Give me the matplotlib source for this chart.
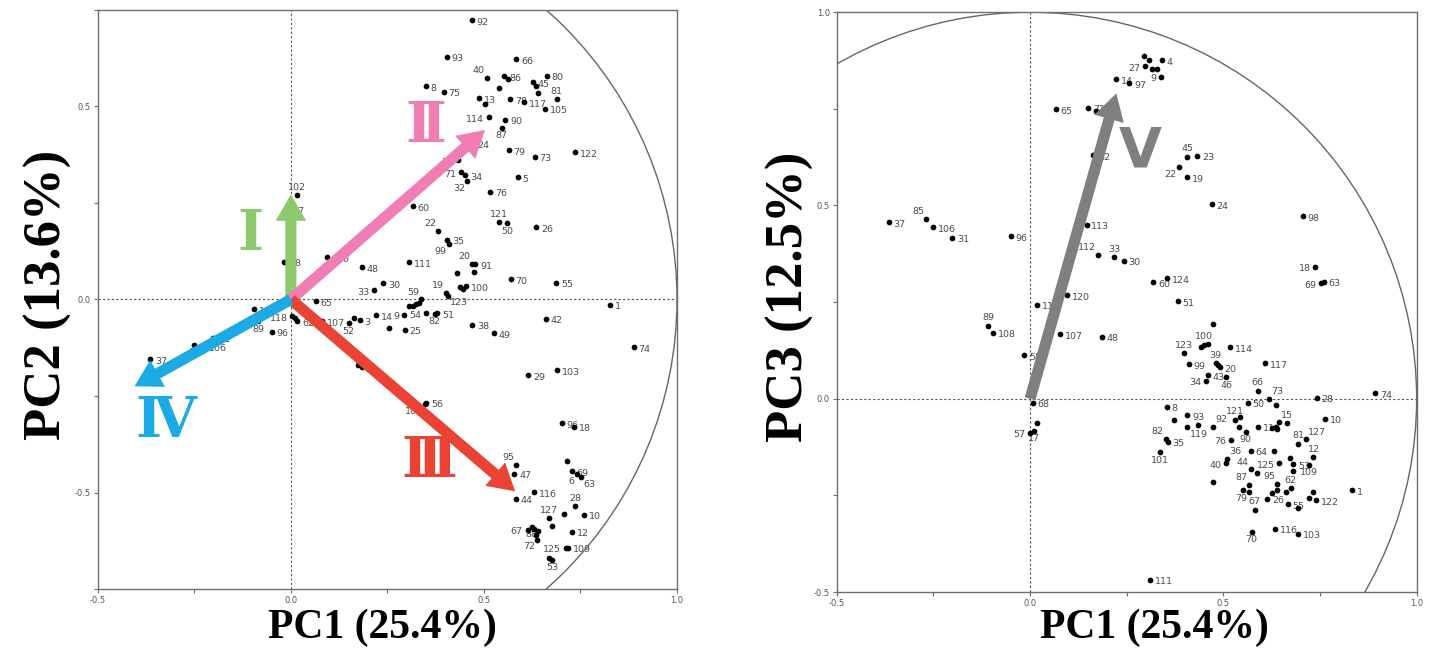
import numpy as np
import matplotlib
matplotlib.use("Agg")
import matplotlib.pyplot as plt
from matplotlib.patches import FancyArrowPatch, Circle, ArrowStyle

# ---------------- data: left panel (PC1 vs PC2) ----------------
pc1_left = [0.469, 0.404, 0.584, 0.507, 0.553, 0.563, 0.663, 0.626, 0.634, 0.641,
            0.688, 0.658, 0.604, 0.568, 0.538, 0.488, 0.503, 0.349, 0.396, 0.512,
            0.555, 0.546, 0.470, 0.432, 0.564, 0.631, 0.735, 0.440, 0.452, 0.457,
            0.587, 0.516, 0.316, 0.540, 0.561, 0.636, 0.382, 0.404, 0.409, 0.307,
            0.469, 0.478, 0.430, 0.473, 0.183, 0.239, 0.216, 0.402, 0.407, 0.439,
            0.454, 0.445, 0.569, 0.687, 0.826, 0.065, 0.337, 0.333, 0.325, 0.316,
            0.307, 0.350, 0.379, 0.372, 0.294, 0.221, 0.254, 0.295, 0.178, 0.163,
            0.150, 0.080, 0.469, 0.525, 0.660, 0.888, 0.174, 0.185, 0.614, 0.689,
            0.701, 0.734, 0.351, 0.348, 0.583, 0.579, 0.583, 0.630, 0.716, 0.727,
            0.740, 0.751, 0.736, 0.760, 0.708, 0.669, 0.677, 0.728, 0.613, 0.624,
            0.630, 0.641, 0.634, 0.637, 0.717, 0.712, 0.669, 0.676, 0.016, -0.010,
            -0.017, 0.094, -0.096, 0.004, 0.010, 0.016, -0.085, -0.050, -0.201, -0.225,
            -0.250, -0.364]
pc2_left = [0.724, 0.629, 0.622, 0.574, 0.578, 0.571, 0.580, 0.563, 0.554, 0.535,
            0.518, 0.494, 0.511, 0.518, 0.547, 0.521, 0.505, 0.553, 0.538, 0.472,
            0.466, 0.444, 0.405, 0.361, 0.387, 0.370, 0.382, 0.330, 0.322, 0.306,
            0.317, 0.279, 0.242, 0.200, 0.197, 0.187, 0.177, 0.155, 0.144, 0.097,
            0.093, 0.091, 0.068, 0.071, 0.083, 0.042, 0.024, 0.016, 0.010, 0.033,
            0.034, 0.026, 0.052, 0.043, -0.014, -0.004, 0.000, -0.010, -0.013, -0.016,
            -0.017, -0.035, -0.036, -0.037, -0.040, -0.041, -0.074, -0.078, -0.054, -0.047,
            -0.062, -0.057, -0.065, -0.087, -0.050, -0.124, -0.171, -0.175, -0.196, -0.183,
            -0.320, -0.330, -0.267, -0.272, -0.429, -0.451, -0.516, -0.499, -0.419, -0.445,
            -0.452, -0.460, -0.535, -0.558, -0.555, -0.567, -0.587, -0.601, -0.596, -0.589,
            -0.594, -0.599, -0.611, -0.622, -0.643, -0.643, -0.670, -0.674, 0.270, 0.233,
            0.098, 0.110, -0.026, -0.043, -0.049, -0.056, -0.057, -0.083, -0.099, -0.122,
            -0.118, -0.155]
names_left = ['92', '93', '66', '40', '86', '', '80', '45', '', '',
              '81', '105', '117', '78', '', '13', '', '8', '75', '114',
              '90', '87', '24', '77', '79', '73', '122', '71', '34', '32',
              '5', '76', '60', '121', '50', '26', '22', '35', '99', '111',
              '20', '91', '', '', '48', '30', '33', '19', '123', '',
              '100', '', '70', '55', '1', '65', '59', '', '', '',
              '', '54', '51', '82', '9', '14', '', '25', '3', '',
              '52', '107', '38', '49', '42', '74', '13', '', '29', '103',
              '96', '18', '56', '101', '95', '47', '44', '116', '', '69',
              '6', '63', '28', '10', '', '127', '', '12', '67', '88',
              '', '', '', '72', '109', '125', '', '53', '102', '57',
              '58', '110', '11', '118', '', '62', '89', '96', '31', '106',
              '85', '37']
side_left = ['r', 'r', 'r', 'al', 'r', 'r', 'r', 'r', 'r', 'r',
             'a', 'r', 'r', 'r', 'r', 'r', 'r', 'r', 'r', 'l',
             'r', 'b', 'r', 'l', 'r', 'r', 'r', 'l', 'r', 'bl',
             'r', 'r', 'r', 'a', 'b', 'r', 'al', 'r', 'bl', 'r',
             'al', 'r', 'r', 'r', 'r', 'r', 'l', 'al', 'br', 'r',
             'r', 'r', 'r', 'r', 'r', 'r', 'al', 'r', 'r', 'r',
             'r', 'l', 'r', 'b', 'l', 'r', 'r', 'r', 'r', 'r',
             'b', 'r', 'r', 'r', 'r', 'r', 'a', 'r', 'r', 'r',
             'r', 'r', 'r', 'bl', 'al', 'r', 'r', 'r', 'r', 'r',
             'bl', 'br', 'a', 'r', 'r', 'a', 'r', 'r', 'l', 'b',
             'r', 'r', 'r', 'bl', 'r', 'l', 'r', 'b', 'a', 'r',
             'r', 'r', 'r', 'l', 'r', 'r', 'b', 'r', 'r', 'r',
             'b', 'r']

# ---------------- data: right panel (PC1 vs PC3) ----------------
pc1_right = [-0.366, -0.269, -0.250, -0.201, -0.050, 0.066, 0.150, 0.170, 0.163, 0.223,
             0.257, 0.295, 0.308, 0.297, 0.315, 0.328, 0.340, 0.338, 0.407, 0.433,
             0.384, 0.405, 0.470, 0.146, 0.175, 0.218, 0.242, 0.318, 0.354, 0.382,
             0.096, 0.018, -0.109, -0.095, 0.077, 0.185, -0.015, 0.007, 0.018, 0.011,
             0.001, 0.398, 0.442, 0.450, 0.459, 0.473, 0.517, 0.411, 0.480, 0.485,
             0.491, 0.608, 0.459, 0.455, 0.507, 0.589, 0.563, 0.618, 0.635, 0.741,
             0.892, 0.764, 0.664, 0.353, 0.371, 0.407, 0.407, 0.435, 0.351, 0.356,
             0.336, 0.529, 0.543, 0.590, 0.627, 0.635, 0.640, 0.644, 0.473, 0.541,
             0.558, 0.519, 0.693, 0.713, 0.571, 0.632, 0.645, 0.672, 0.681, 0.681,
             0.733, 0.721, 0.510, 0.507, 0.571, 0.586, 0.473, 0.567, 0.550, 0.567,
             0.640, 0.674, 0.662, 0.640, 0.627, 0.613, 0.667, 0.692, 0.740, 0.731,
             0.721, 0.832, 0.581, 0.573, 0.633, 0.693, 0.310, 0.705, 0.738, 0.753,
             0.760]
pc3_right = [0.456, 0.465, 0.444, 0.417, 0.421, 0.749, 0.753, 0.745, 0.630, 0.827,
             0.816, 0.887, 0.876, 0.860, 0.853, 0.853, 0.876, 0.833, 0.626, 0.629,
             0.599, 0.573, 0.504, 0.450, 0.372, 0.366, 0.357, 0.301, 0.312, 0.253,
             0.268, 0.243, 0.189, 0.171, 0.167, 0.161, 0.113, -0.010, -0.064, -0.083,
             -0.088, 0.118, 0.135, 0.140, 0.142, 0.194, 0.134, 0.090, 0.092, 0.088,
             0.081, 0.092, 0.061, 0.047, 0.056, 0.021, -0.010, -0.001, -0.016, 0.003,
             0.015, -0.052, -0.063, -0.021, -0.056, -0.042, -0.073, -0.068, -0.103, -0.111,
             -0.139, -0.054, -0.048, -0.072, -0.076, -0.072, -0.078, -0.060, -0.072, -0.074,
             -0.086, -0.106, -0.116, -0.105, -0.134, -0.134, -0.166, -0.152, -0.169, -0.188,
             -0.151, -0.171, -0.156, -0.166, -0.183, -0.192, -0.216, -0.223, -0.236, -0.240,
             -0.220, -0.231, -0.242, -0.237, -0.244, -0.259, -0.273, -0.283, -0.262, -0.241,
             -0.256, -0.237, -0.287, -0.344, -0.336, -0.349, -0.468, 0.472, 0.342, 0.299,
             0.303]
names_right = ['37', '85', '106', '31', '96', '65', '71', '', '32', '14',
               '97', '', '', '27', '', '', '4', '9', '45', '23',
               '22', '19', '24', '113', '112', '33', '30', '60', '124', '51',
               '120', '110', '89', '108', '107', '48', '58', '68', '', '17',
               '57', '123', '', '100', '', '', '114', '99', '39', '',
               '20', '117', '43', '34', '46', '66', '50', '73', '', '28',
               '74', '10', '15', '8', '', '93', '119', '', '82', '35',
               '101', '121', '', '11', '', '', '', '', '92', '',
               '90', '76', '81', '127', '64', '', '125', '', '53', '',
               '12', '109', '36', '40', '44', '', '', '87', '', '79',
               '95', '62', '', '', '', '26', '55', '', '122', '',
               '', '1', '67', '70', '116', '103', '111', '98', '18', '69',
               '63']
side_right = ['r', 'al', 'r', 'r', 'r', 'r', 'r', 'r', 'r', 'r',
              'r', 'r', 'r', 'l', 'r', 'r', 'r', 'l', 'a', 'r',
              'bl', 'r', 'r', 'r', 'al', 'a', 'r', 'r', 'r', 'r',
              'r', 'r', 'a', 'r', 'r', 'r', 'r', 'r', 'r', 'b',
              'l', 'a', 'r', 'a', 'r', 'r', 'r', 'r', 'a', 'r',
              'r', 'r', 'r', 'l', 'b', 'a', 'r', 'ar', 'r', 'r',
              'r', 'r', 'a', 'r', 'r', 'r', 'br', 'r', 'al', 'r',
              'b', 'a', 'r', 'r', 'r', 'r', 'r', 'r', 'ar', 'r',
              'b', 'l', 'a', 'ar', 'r', 'r', 'l', 'r', 'r', 'r',
              'a', 'b', 'ar', 'l', 'al', 'r', 'r', 'al', 'r', 'bl',
              'al', 'a', 'r', 'r', 'r', 'r', 'r', 'r', 'r', 'r',
              'r', 'r', 'a', 'b', 'r', 'r', 'r', 'r', 'l', 'l',
              'r']

# loading arrows (tip coordinates) and their roman numeral labels
arrows_left = [(0.000, 0.272), (0.503, 0.439), (0.581, -0.497), (-0.405, -0.225)]
arrow_names_left = ['Ⅰ', 'Ⅱ', 'Ⅲ', 'Ⅳ']
arrow_colors_left = ['#8DC86C', '#F07DB4', '#EA4335', '#1BAAE3']
arrow_text_left = [(-0.106, 0.168), (0.349, 0.449), (0.359, -0.420), (-0.325, -0.316)]

arrows_right = [(0.223, 0.790)]
arrow_names_right = ['Ⅴ']
arrow_colors_right = ['#7F7F80']
arrow_text_right = [(0.285, 0.639)]

OFFSETS = {
    'r': ((3.5, -1.5), 'left', 'center'),
    'l': ((-3.5, -1.5), 'right', 'center'),
    'a': ((0, 2.5), 'center', 'bottom'),
    'b': ((0, -2.5), 'center', 'top'),
    'al': ((-1.5, 2), 'right', 'bottom'),
    'ar': ((1.5, 2), 'left', 'bottom'),
    'bl': ((-1.5, -2), 'right', 'top'),
    'br': ((1.5, -2), 'left', 'top'),
}

GRAY = '#6E6E6E'


def draw_panel(ax, xs, ys, names, sides, ylim, arrows, anames, acolors, atext, numeral_font):
    ax.set_xlim(-0.5, 1.0)
    ax.set_ylim(*ylim)
    ax.set_aspect('equal', adjustable='box')

    ax.axhline(0, color='#555555', lw=0.8, ls=(0, (2, 2)), zorder=1)
    ax.axvline(0, color='#555555', lw=0.8, ls=(0, (2, 2)), zorder=1)
    ax.add_patch(Circle((0, 0), 1.0, fill=False, ec='#666666', lw=1.0, zorder=1))

    for x, y, n, s in zip(xs, ys, names, sides):
        if not n:
            continue
        off, ha, va = OFFSETS[s]
        ax.annotate(n, (x, y), xytext=off, textcoords='offset points',
                    ha=ha, va=va, fontsize=6.8, color='#4A4A4A', zorder=3)
    ax.scatter(xs, ys, s=17, c='black', linewidths=0, zorder=4)

    for tip, name, col, tpos in zip(arrows, anames, acolors, atext):
        arr = FancyArrowPatch((0, 0), tip,
                              arrowstyle=ArrowStyle.Simple(head_length=19, head_width=22, tail_width=8),
                              mutation_scale=1, shrinkA=0, shrinkB=0,
                              color=col, lw=0, zorder=5)
        ax.add_patch(arr)
        ax.text(tpos[0], tpos[1], name, color=col, fontsize=40, fontweight='bold',
                family=numeral_font, ha='center', va='center', zorder=6)

    ax.set_xticks([-0.5, 0.0, 0.5, 1.0])
    ax.set_xticks(np.arange(-0.5, 1.01, 0.25), minor=True)
    yt = [v for v in [-0.5, 0.0, 0.5, 1.0] if ylim[0] - 1e-6 <= v <= ylim[1] + 1e-6]
    ax.set_yticks(yt)
    ax.set_yticks([v for v in np.arange(-0.75, 1.01, 0.25) if ylim[0] - 1e-6 <= v <= ylim[1] + 1e-6], minor=True)
    ax.xaxis.set_major_formatter(plt.FormatStrFormatter('%.1f'))
    ax.yaxis.set_major_formatter(plt.FormatStrFormatter('%.1f'))
    ax.tick_params(which='both', direction='out', length=3, width=0.8, color=GRAY,
                   labelsize=6, labelcolor='#555555', pad=2)
    for sp in ax.spines.values():
        sp.set_color(GRAY)
        sp.set_linewidth(1.0)


fig = plt.figure(figsize=(14.45, 6.5), dpi=100)
ax1 = fig.add_axes([0.0671, 0.0938, 0.402, 0.891])
ax2 = fig.add_axes([0.578, 0.0892, 0.4035, 0.892])

draw_panel(ax1, pc1_left, pc2_left, names_left, side_left, (-0.75, 0.75),
           arrows_left, arrow_names_left, arrow_colors_left, arrow_text_left,
           ['DejaVu Serif', 'DejaVu Sans'])
draw_panel(ax2, pc1_right, pc3_right, names_right, side_right, (-0.5, 1.0),
           arrows_right, arrow_names_right, arrow_colors_right, arrow_text_right,
           ['DejaVu Sans'])

serif = ['Liberation Serif', 'DejaVu Serif']
fig.text(0.265, 0.034, 'PC1 (25.4%)', family=serif, fontweight='bold', fontsize=30,
         ha='center', va='center')
fig.text(0.799, 0.034, 'PC1 (25.4%)', family=serif, fontweight='bold', fontsize=30,
         ha='center', va='center')
fig.text(0.033, 0.546, 'PC2 (13.6%)', family=serif, fontweight='bold', fontsize=38,
         ha='center', va='center', rotation=90)
fig.text(0.547, 0.543, 'PC3 (12.5%)', family=serif, fontweight='bold', fontsize=38,
         ha='center', va='center', rotation=90)

fig.savefig('out.png', dpi=100)
